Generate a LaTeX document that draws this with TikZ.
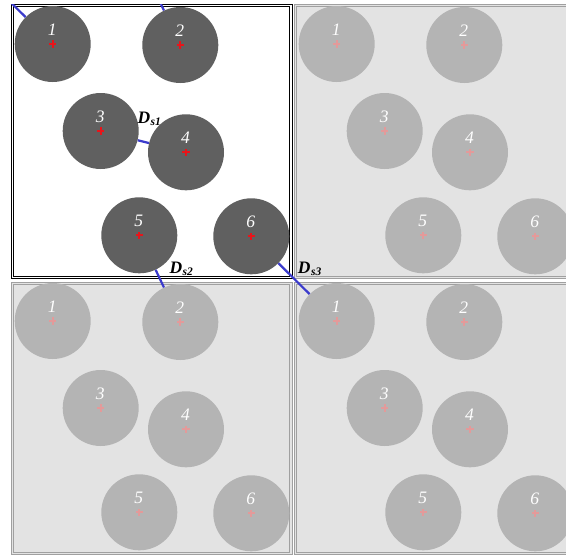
\documentclass[tikz,border=0pt]{standalone}
\usepackage{fontspec}
\setmainfont{Liberation Serif}
\definecolor{darkc}{HTML}{606060}
\definecolor{lightc}{HTML}{B4B4B4}
\definecolor{tilebg}{HTML}{E3E3E3}
\definecolor{tileedge}{HTML}{A0A0A0}
\definecolor{dsblue}{HTML}{3B3BCC}
\definecolor{plusred}{HTML}{E8141A}
\definecolor{pluspink}{HTML}{E39A9A}
\tikzset{
 particle/.style={circle, minimum size=76pt, inner sep=0pt, fill=#1},
 numtext/.style={font=\fontsize{17.5}{17.5}\selectfont\itshape, text=white, inner sep=0pt, anchor=base},
 dsline/.style={draw=dsblue, line width=2.2pt},
 dslabel/.style={font=\fontsize{17.5}{17.5}\selectfont\bfseries\itshape, inner sep=0pt, anchor=base west},
 maintile/.style={draw=black, double=white, line width=1pt, double distance=1.2pt, fill=white},
 greytile/.style={draw=tileedge, double=tilebg, line width=1pt, double distance=1.2pt, fill=tilebg},
}
\newcommand\placeparticles[5]{%
  \foreach \n/\px/\py in {1/52.7/44, 2/180.3/45, 3/100.7/131, 4/186/152.3, 5/139.3/235.3, 6/251.3/236.3}{
    \node[particle=#4] (#1\n) at (\px+#2,\py+#3) {};
    \node[numtext] (#1n\n) at ([xshift=-0.5pt,yshift=8.5pt]#1\n.center) {\n};
    \fill[#5] (#1\n.center) +(-3.7,-0.85) rectangle +(3.7,0.85);
    \fill[#5] (#1\n.center) +(-0.85,-3.7) rectangle +(0.85,3.7);
  }
}
\newcommand\dstext[1]{D\kern0.5pt\raisebox{-2pt}{\fontsize{11.5}{11.5}\selectfont s#1}}
\begin{document}
\begin{tikzpicture}[x=1pt,y=-1pt]
\useasboundingbox (0,0) rectangle (566,555);
\clip (0,0) rectangle (566,555);
% periodic image tiles
\draw[greytile] (295.3,5.3) rectangle (578,277.6);
\draw[greytile] (12.3,283.3) rectangle (291,553.5);
\draw[greytile] (295.3,283.3) rectangle (578,553.5);
\placeparticles{r}{284}{0}{lightc}{pluspink}
\placeparticles{b}{0}{277}{lightc}{pluspink}
\placeparticles{d}{284}{277}{lightc}{pluspink}
% main cell
\draw[maintile] (12.3,5.3) rectangle (291,277.6);
\placeparticles{c}{0}{0}{darkc}{plusred}
% separations
\coordinate (u6) at (-32.7,-40.7);
\coordinate (u5) at (139.3,-41.7);
\begin{scope}
\clip (11,4) rectangle (292.5,279);
\draw[dsline] (c1) -- (u6);
\draw[dsline] (c2) -- (u5);
\end{scope}
\draw[dsline] (c3) -- (c4);
\draw[dsline] (c5) -- (b2);
\draw[dsline] (c6) -- (d1);
\node[dslabel] (ds1) at (137.3,123.3) {\dstext{1}};
\node[dslabel] (ds2) at (169.3,273.3) {\dstext{2}};
\node[dslabel] (ds3) at (297.7,273.3) {\dstext{3}};
\end{tikzpicture}
\end{document}
